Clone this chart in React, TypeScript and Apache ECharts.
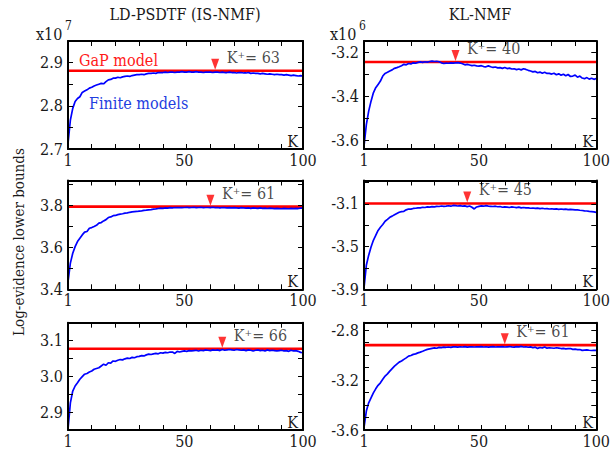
import React, { useEffect, useRef } from "react";
import * as echarts from "echarts";

// K = number of bases of the finite models
const kValues = Array.from({ length: 100 }, (_, i) => i + 1);

// LD-PSDTF (IS-NMF) column, values in units of 1e7
const ldFinite1 = [
  2.713, 2.767, 2.794, 2.81, 2.817, 2.821, 2.831, 2.834, 2.837, 2.841,
  2.843, 2.846, 2.848, 2.85, 2.852, 2.851, 2.856, 2.86, 2.861, 2.864,
  2.864, 2.866, 2.865, 2.867, 2.868, 2.869, 2.868, 2.87, 2.871, 2.872,
  2.872, 2.873, 2.872, 2.874, 2.875, 2.875, 2.876, 2.875, 2.877, 2.877,
  2.877, 2.878, 2.877, 2.878, 2.878, 2.877, 2.878, 2.878, 2.879, 2.878,
  2.878, 2.879, 2.878, 2.878, 2.879, 2.878, 2.878, 2.877, 2.878, 2.878,
  2.878, 2.877, 2.878, 2.878, 2.877, 2.878, 2.877, 2.877, 2.878, 2.877,
  2.877, 2.876, 2.877, 2.877, 2.876, 2.876, 2.877, 2.875, 2.876, 2.875,
  2.875, 2.874, 2.875, 2.874, 2.873, 2.874, 2.873, 2.872, 2.873, 2.872,
  2.872, 2.871, 2.872, 2.871, 2.87, 2.871, 2.87, 2.869, 2.87, 2.869,
];
const ldFinite2 = [
  3.436, 3.525, 3.572, 3.604, 3.628, 3.644, 3.66, 3.673, 3.676, 3.692,
  3.695, 3.7, 3.706, 3.716, 3.719, 3.727, 3.733, 3.743, 3.746, 3.752,
  3.753, 3.757, 3.759, 3.761, 3.764, 3.765, 3.768, 3.77, 3.771, 3.772,
  3.774, 3.775, 3.777, 3.778, 3.78, 3.781, 3.783, 3.784, 3.786, 3.788,
  3.787, 3.789, 3.788, 3.79, 3.789, 3.791, 3.79, 3.791, 3.79, 3.791,
  3.792, 3.79, 3.791, 3.792, 3.79, 3.791, 3.792, 3.79, 3.791, 3.791,
  3.79, 3.792, 3.79, 3.791, 3.789, 3.791, 3.79, 3.789, 3.79, 3.789,
  3.79, 3.789, 3.788, 3.79, 3.789, 3.788, 3.789, 3.787, 3.789, 3.788,
  3.787, 3.789, 3.787, 3.788, 3.786, 3.788, 3.787, 3.786, 3.787, 3.786,
  3.785, 3.787, 3.786, 3.785, 3.787, 3.786, 3.787, 3.786, 3.788, 3.788,
];
const ldFinite3 = [
  2.852, 2.926, 2.959, 2.973, 2.982, 2.992, 2.999, 3.006, 3.008, 3.012,
  3.015, 3.02, 3.022, 3.024, 3.029, 3.034, 3.031, 3.038, 3.037, 3.043,
  3.042, 3.045, 3.047, 3.046, 3.049, 3.051, 3.05, 3.053, 3.052, 3.055,
  3.056, 3.058, 3.057, 3.06, 3.062, 3.061, 3.063, 3.064, 3.063, 3.066,
  3.065, 3.067, 3.066, 3.068, 3.068, 3.064, 3.07, 3.068, 3.07, 3.071,
  3.07, 3.072, 3.071, 3.072, 3.073, 3.071, 3.073, 3.072, 3.074, 3.073,
  3.072, 3.074, 3.073, 3.074, 3.072, 3.075, 3.073, 3.074, 3.075, 3.074,
  3.073, 3.075, 3.074, 3.073, 3.074, 3.072, 3.074, 3.073, 3.071, 3.073,
  3.074, 3.072, 3.073, 3.071, 3.074, 3.072, 3.073, 3.072, 3.071, 3.072,
  3.073, 3.071, 3.072, 3.07, 3.073, 3.071, 3.072, 3.07, 3.067, 3.066,
];

// KL-NMF column, values in units of 1e6
const klFinite1 = [
  -3.627, -3.529, -3.468, -3.423, -3.385, -3.362, -3.347, -3.332, -3.309, -3.297,
  -3.292, -3.286, -3.281, -3.274, -3.271, -3.267, -3.262, -3.256, -3.258, -3.252,
  -3.254, -3.249, -3.251, -3.247, -3.245, -3.247, -3.244, -3.246, -3.243, -3.241,
  -3.243, -3.242, -3.244, -3.249, -3.252, -3.25, -3.251, -3.249, -3.25, -3.249,
  -3.248, -3.25, -3.253, -3.258, -3.256, -3.259, -3.262, -3.26, -3.263, -3.264,
  -3.262, -3.266, -3.267, -3.263, -3.267, -3.27, -3.268, -3.272, -3.271, -3.274,
  -3.27, -3.275, -3.273, -3.277, -3.276, -3.28, -3.277, -3.281, -3.276, -3.279,
  -3.283, -3.286, -3.29, -3.288, -3.294, -3.291, -3.296, -3.292, -3.297, -3.297,
  -3.3, -3.296, -3.303, -3.299, -3.305, -3.301, -3.308, -3.302, -3.311, -3.309,
  -3.305, -3.314, -3.309, -3.318, -3.321, -3.316, -3.323, -3.319, -3.324, -3.32,
];
const klFinite2 = [
  -3.89, -3.674, -3.58, -3.504, -3.441, -3.395, -3.348, -3.318, -3.293, -3.262,
  -3.244, -3.225, -3.214, -3.202, -3.19, -3.178, -3.172, -3.169, -3.155, -3.147,
  -3.148, -3.142, -3.14, -3.136, -3.137, -3.131, -3.133, -3.128, -3.13, -3.125,
  -3.127, -3.122, -3.124, -3.119, -3.122, -3.12, -3.117, -3.121, -3.114, -3.116,
  -3.119, -3.115, -3.121, -3.118, -3.125, -3.119, -3.131, -3.147, -3.128, -3.122,
  -3.118, -3.121, -3.116, -3.12, -3.122, -3.124, -3.121, -3.126, -3.124, -3.131,
  -3.127, -3.129, -3.133, -3.128, -3.131, -3.134, -3.13, -3.137, -3.133, -3.137,
  -3.136, -3.14, -3.138, -3.141, -3.139, -3.143, -3.14, -3.145, -3.143, -3.147,
  -3.145, -3.148, -3.146, -3.15, -3.147, -3.151, -3.149, -3.153, -3.151, -3.153,
  -3.156, -3.155, -3.159, -3.161, -3.164, -3.166, -3.17, -3.172, -3.175, -3.178,
];
const klFinite3 = [
  -3.582, -3.448, -3.382, -3.342, -3.302, -3.27, -3.242, -3.222, -3.194, -3.168,
  -3.15, -3.128, -3.108, -3.088, -3.072, -3.056, -3.047, -3.034, -3.022, -3.008,
  -3.003, -2.994, -2.99, -2.982, -2.976, -2.969, -2.961, -2.954, -2.95, -2.946,
  -2.942, -2.945, -2.938, -2.94, -2.936, -2.937, -2.935, -2.938, -2.934, -2.934,
  -2.936, -2.933, -2.935, -2.932, -2.936, -2.934, -2.933, -2.935, -2.933, -2.934,
  -2.932, -2.935, -2.933, -2.936, -2.934, -2.932, -2.935, -2.933, -2.934, -2.932,
  -2.935, -2.933, -2.931, -2.934, -2.936, -2.932, -2.934, -2.93, -2.935, -2.933,
  -2.937, -2.934, -2.941, -2.936, -2.946, -2.939, -2.943, -2.934, -2.944, -2.941,
  -2.943, -2.945, -2.941, -2.944, -2.947, -2.946, -2.95, -2.948, -2.947, -2.954,
  -2.952, -2.956, -2.955, -2.962, -2.96, -2.958, -2.961, -2.963, -2.962, -2.962,
];

// GaP model (red line) bound and its inferred K+ for each panel (row-major)
const gapValues = [2.881, -3.245, 3.795, -3.095, 3.077, -2.92];
const kPlusValues = [63, 40, 61, 45, 66, 61];
const finiteSeries = [ldFinite1, klFinite1, ldFinite2, klFinite2, ldFinite3, klFinite3];

// axes
const xLabelValues = [1, 50, 100];
const xTickValues = [11, 21, 31, 41, 51, 61, 71, 81, 91];
const yMins = [2.7, -3.64, 3.4, -3.9, 2.85, -3.6];
const yMaxs = [2.95, -3.15, 3.92, -2.88, 3.15, -2.74];
const yLabelValues = [
  [2.7, 2.8, 2.9],
  [-3.6, -3.4, -3.2],
  [3.4, 3.6, 3.8],
  [-3.9, -3.5, -3.1],
  [2.9, 3.0, 3.1],
  [-3.6, -3.2, -2.8],
];
const yTickValues = [
  [2.75, 2.8, 2.85, 2.9],
  [-3.6, -3.5, -3.4, -3.3, -3.2],
  [3.5, 3.6, 3.7, 3.8, 3.9],
  [-3.7, -3.5, -3.3, -3.1, -2.9],
  [2.9, 2.95, 3.0, 3.05, 3.1],
  [-3.5, -3.4, -3.3, -3.2, -3.1, -3.0, -2.9, -2.8],
];
const columnTitles = ["LD-PSDTF (IS-NMF)", "KL-NMF"];
const exponents = ["7", "6"];
const yAxisTitle = "Log-evidence lower bounds";

// layout
const COL_LEFT = [68, 364];
const COL_WIDTH = [235, 234];
const ROW_TOP = [41, 180.5, 322.7];
const ROW_HEIGHT = [108, 108.8, 107.3];
const FONT = "'DejaVu Serif Condensed', 'DejaVu Serif', serif";
const TEXT = "#1a1a1a";
const RED = "#ff0000";
const BLUE = "#0000ff";

export default function App() {
  const ref = useRef<HTMLDivElement>(null);
  useEffect(() => {
    document.body.style.margin = "0";
    if (!ref.current) return;
    const chart = echarts.init(ref.current, undefined, { renderer: "svg" });

    const grids: any[] = [];
    const xAxes: any[] = [];
    const yAxes: any[] = [];
    const series: any[] = [];
    const graphics: any[] = [];

    for (let i = 0; i < 6; i++) {
      const row = Math.floor(i / 2);
      const col = i % 2;
      const left = COL_LEFT[col];
      const top = ROW_TOP[row];
      const width = COL_WIDTH[col];
      const height = ROW_HEIGHT[row];
      grids.push({ left, top, width, height, show: false, containLabel: false });
      const tickCommon = {
        show: true,
        inside: true,
        length: 5,
        lineStyle: { color: "#000", width: 1 },
      };
      const lineCommon = {
        show: true,
        onZero: false,
        lineStyle: { color: "#000", width: 2 },
      };
      ["bottom", "top"].forEach((pos) => {
        xAxes.push({
          gridIndex: i,
          type: "value",
          position: pos,
          min: 1,
          max: 100,
          z: 11,
          axisLine: lineCommon,
          splitLine: { show: false },
          axisTick: { ...tickCommon, customValues: xTickValues },
          axisLabel:
            pos === "bottom"
              ? {
                  show: true,
                  customValues: xLabelValues,
                  fontFamily: FONT,
                  fontSize: 16,
                  color: TEXT,
                  margin: 3,
                }
              : { show: false },
        });
      });
      ["left", "right"].forEach((pos) => {
        yAxes.push({
          gridIndex: i,
          type: "value",
          position: pos,
          min: yMins[i],
          max: yMaxs[i],
          z: 11,
          axisLine: lineCommon,
          splitLine: { show: false },
          axisTick: { ...tickCommon, customValues: yTickValues[i] },
          axisLabel:
            pos === "left"
              ? {
                  show: true,
                  customValues: yLabelValues[i],
                  formatter: (v: number) => v.toFixed(1),
                  fontFamily: FONT,
                  fontSize: 16,
                  color: TEXT,
                  margin: 5,
                }
              : { show: false },
        });
      });
      const xi = i * 2;
      const yi = i * 2;
      series.push({
        type: "line",
        xAxisIndex: xi,
        yAxisIndex: yi,
        data: [
          [1, gapValues[i]],
          [100, gapValues[i]],
        ],
        showSymbol: false,
        symbol: "none",
        lineStyle: { color: RED, width: 2.6 },
        silent: true,
        z: 2,
      });
      series.push({
        type: "line",
        xAxisIndex: xi,
        yAxisIndex: yi,
        data: kValues.map((k, j) => [k, finiteSeries[i][j]]),
        showSymbol: false,
        symbol: "none",
        lineStyle: { color: BLUE, width: 1.7 },
        silent: true,
        z: 3,
      });
      series.push({
        type: "scatter",
        xAxisIndex: xi,
        yAxisIndex: yi,
        data: [[kPlusValues[i], gapValues[i]]],
        symbol: "triangle",
        symbolSize: [8, 11],
        symbolRotate: 180,
        symbolOffset: [0, -6.5],
        itemStyle: { color: RED },
        silent: true,
        z: 4,
      });
      series.push({
        type: "scatter",
        xAxisIndex: xi,
        yAxisIndex: yi,
        data: [[kPlusValues[i], gapValues[i]]],
        symbol: "circle",
        symbolSize: 1,
        itemStyle: { color: "transparent" },
        label: {
          show: true,
          position: [12, -13],
          align: "left",
          verticalAlign: "middle",
          formatter: "K\u207A= " + kPlusValues[i],
          fontFamily: FONT,
          fontSize: 16,
          color: TEXT,
        },
        silent: true,
        z: 5,
      });
      // "K" axis name inside the frame, bottom-right
      graphics.push({
        type: "text",
        x: left + width - 5,
        y: top + height - 7.5,
        style: {
          text: "K",
          font: `16px ${FONT}`,
          fill: TEXT,
          align: "right",
          textAlign: "right",
          verticalAlign: "middle",
          textVerticalAlign: "middle",
        },
      });
    }

    // column titles and exponents
    const titleX = [185, 480];
    const expX = [36, 330];
    for (let c = 0; c < 2; c++) {
      graphics.push({
        type: "text",
        x: titleX[c],
        y: 14,
        style: {
          text: columnTitles[c],
          font: `16px ${FONT}`,
          fill: TEXT,
          align: "center",
          textAlign: "center",
          verticalAlign: "middle",
          textVerticalAlign: "middle",
        },
      });
      graphics.push({
        type: "text",
        x: expX[c],
        y: 34,
        style: {
          text: "x10",
          font: `16px ${FONT}`,
          fill: TEXT,
          align: "left",
          textAlign: "left",
          verticalAlign: "middle",
          textVerticalAlign: "middle",
        },
      });
      graphics.push({
        type: "text",
        x: expX[c] + 29,
        y: 25.5,
        style: {
          text: exponents[c],
          font: `12px ${FONT}`,
          fill: TEXT,
          align: "left",
          textAlign: "left",
          verticalAlign: "middle",
          textVerticalAlign: "middle",
        },
      });
    }
    graphics.push({
      type: "text",
      x: 79,
      y: 60,
      style: {
        text: "GaP model",
        font: `16px ${FONT}`,
        fill: "#ff1a1a",
        align: "left",
        textAlign: "left",
        verticalAlign: "middle",
        textVerticalAlign: "middle",
      },
    });
    graphics.push({
      type: "text",
      x: 89,
      y: 103,
      style: {
        text: "Finite models",
        font: `16px ${FONT}`,
        fill: "#1f3ee0",
        align: "left",
        textAlign: "left",
        verticalAlign: "middle",
        textVerticalAlign: "middle",
      },
    });
    graphics.push({
      type: "text",
      x: 19,
      y: 242,
      rotation: Math.PI / 2,
      style: {
        text: yAxisTitle,
        font: `15px ${FONT}`,
        fill: TEXT,
        align: "center",
        textAlign: "center",
        verticalAlign: "middle",
        textVerticalAlign: "middle",
      },
    });

    chart.setOption({
      animation: false,
      backgroundColor: "#ffffff",
      grid: grids,
      xAxis: xAxes,
      yAxis: yAxes,
      series,
      graphic: { elements: graphics },
    });
    return () => chart.dispose();
  }, []);
  return <div ref={ref} style={{ width: 613, height: 453 }} />;
}
